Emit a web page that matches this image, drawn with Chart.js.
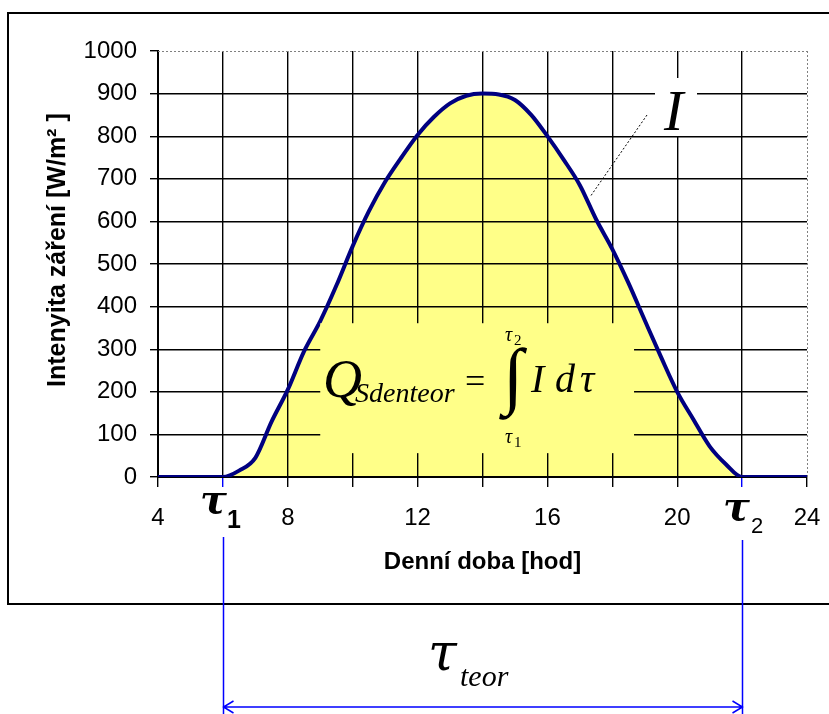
<!DOCTYPE html>
<html><head><meta charset="utf-8">
<script src="https://cdn.jsdelivr.net/npm/chart.js@4"></script>
<style>html,body{margin:0;padding:0;background:#fff;} canvas{display:block;}</style>
</head><body>
<canvas id="c" width="829" height="714"></canvas>
<script>
// ---- data ----
const hours = [4,5,6,6.5,7,7.5,8,8.5,9,9.5,10,10.5,11,11.5,12,12.5,13,13.5,14,14.5,15,15.5,16,16.5,17,17.5,18,18.5,19,19.5,20,20.5,21,21.5,22,23,24];
const intensity = [0,0,0,15,45,130,205,295,366,450,542,624,693,750,803,845,877,895,900,898,885,850,800,745,685,605,535,455,368,282,200,135,72,30,0,0,0];
const xTickLabels = [4,8,12,16,20,24];
const tau1 = 6, tau2 = 22;

const SANS = '"Liberation Sans", Arial, sans-serif';
const SERIF = '"Liberation Serif", "Times New Roman", serif';
const DSERIF = '"DejaVu Serif", serif';

const overlay = {
  id: 'overlay',
  afterDraw(chart) {
    const ctx = chart.ctx, xs = chart.scales.x, ys = chart.scales.y, a = chart.chartArea;
    const X = v => xs.getPixelForValue(v), Y = v => ys.getPixelForValue(v);
    ctx.save();
    // dotted top / right plot edges
    ctx.strokeStyle = '#808080'; ctx.lineWidth = 1; ctx.setLineDash([2, 2]);
    ctx.beginPath();
    ctx.moveTo(a.left, Math.round(a.top) + 0.5); ctx.lineTo(a.right, Math.round(a.top) + 0.5);
    ctx.moveTo(Math.round(a.right) + 0.5, a.top); ctx.lineTo(Math.round(a.right) + 0.5, a.bottom);
    ctx.stroke();
    ctx.setLineDash([]);
    // outer frame
    ctx.strokeStyle = '#000'; ctx.lineWidth = 2;
    ctx.strokeRect(8, 13, 840, 591);

    // "I" label with white box and leader line
    ctx.fillStyle = '#fff';
    ctx.fillRect(655, 78, 42, 58);
    ctx.fillStyle = '#000';
    ctx.font = 'italic 58px ' + SERIF;
    ctx.textBaseline = 'alphabetic'; ctx.textAlign = 'left';
    ctx.fillText('I', 664, 130);
    ctx.strokeStyle = '#000'; ctx.lineWidth = 1; ctx.setLineDash([2, 2]);
    ctx.beginPath(); ctx.moveTo(647, 115); ctx.lineTo(590, 197); ctx.stroke();
    ctx.setLineDash([]);

    // equation box
    ctx.fillStyle = '#FFFF88';
    ctx.fillRect(X(9), Y(361), X(18.67) - X(9), Y(56) - Y(361));
    ctx.fillStyle = '#000';
    ctx.font = 'italic 54px ' + SERIF;
    ctx.fillText('Q', 323, 397);
    ctx.font = 'italic 28px ' + SERIF;
    ctx.fillText('Sdenteor', 355, 402);
    ctx.font = '36px ' + SERIF;
    ctx.fillText('=', 465, 393);
    ctx.font = '74px ' + SERIF;
    ctx.textBaseline = 'middle';
    ctx.fillText('\u222B', 503, 381);
    ctx.textBaseline = 'alphabetic';
    ctx.font = 'italic 20px ' + SERIF;
    ctx.fillText('\u03C4', 505, 341);
    ctx.fillText('\u03C4', 505, 443);
    ctx.font = '15px ' + SERIF;
    ctx.fillText('2', 514, 345);
    ctx.fillText('1', 514, 447);
    ctx.font = 'italic 40px ' + SERIF;
    ctx.fillText('I', 531, 392);
    ctx.fillText('d', 555, 392);
    ctx.fillText('\u03C4', 580, 392);

    // tau labels on axis
    ctx.font = 'italic bold 40px ' + DSERIF;
    ctx.fillText('\u03C4', 200, 513);
    ctx.fillText('\u03C4', 723, 520);
    ctx.font = 'bold 25px ' + SANS;
    ctx.fillText('1', 227, 528);
    ctx.font = '22px ' + SANS;
    ctx.fillText('2', 751, 533);

    // blue dimension lines
    const x1 = Math.round(X(tau1)) + 0.5, x2 = Math.round(X(tau2)) + 0.5;
    ctx.strokeStyle = '#0000FF'; ctx.lineWidth = 1.5;
    ctx.beginPath();
    ctx.moveTo(x1, 537); ctx.lineTo(x1, 714);
    ctx.moveTo(x2, 540); ctx.lineTo(x2, 714);
    ctx.moveTo(x1, 707); ctx.lineTo(x2, 707);
    ctx.moveTo(x1 + 10, 701); ctx.lineTo(x1, 707); ctx.lineTo(x1 + 10, 713);
    ctx.moveTo(x2 - 10, 701); ctx.lineTo(x2, 707); ctx.lineTo(x2 - 10, 713);
    ctx.stroke();

    // tau teor
    ctx.fillStyle = '#000';
    ctx.font = 'italic 52px ' + DSERIF;
    ctx.fillText('\u03C4', 428, 670);
    ctx.font = 'italic 30px ' + SERIF;
    ctx.fillText('teor', 460, 686);
    ctx.restore();
  }
};

const ctx = document.getElementById('c').getContext('2d');
new Chart(ctx, {
  type: 'line',
  data: {
    datasets: [{
      data: hours.map((h, i) => ({x: h, y: intensity[i]})),
      borderColor: '#000080',
      borderWidth: 4,
      backgroundColor: '#FFFF88',
      fill: 'origin',
      pointRadius: 0,
      cubicInterpolationMode: 'monotone'
    }]
  },
  options: {
    responsive: false,
    animation: false,
    devicePixelRatio: 1,
    layout: {padding: {left: 42, top: 51, right: 22, bottom: 137.6}},
    plugins: {
      legend: {display: false},
      tooltip: {enabled: false},
      filler: {drawTime: 'beforeDraw'}
    },
    scales: {
      x: {
        type: 'linear', min: 4, max: 24,
        ticks: {
          stepSize: 2, autoSkip: false, maxRotation: 0, padding: 17, color: '#000',
          font: {family: SANS, size: 24},
          callback: v => xTickLabels.includes(v) ? String(v) : ''
        },
        grid: {
          color: c => (c.tick && c.tick.value === 24) ? 'rgba(0,0,0,0)' : '#000',
          lineWidth: 1.4, tickLength: 10, tickWidth: 1.4,
          tickColor: c => (c.tick && (c.tick.value === tau1 || c.tick.value === tau2)) ? '#0000FF' : '#000'
        },
        border: {color: '#000', width: 2},
        title: {display: true, text: 'Denní doba [hod]', color: '#000',
          font: {family: SANS, size: 24, weight: 'bold'}, padding: {top: 0, bottom: 0}},
        afterFit: s => { s.height = 99.4; s.paddingLeft = 0; s.paddingRight = 0; }
      },
      y: {
        min: 0, max: 1000,
        ticks: {stepSize: 100, padding: 13, color: '#000', font: {family: SANS, size: 24},
          callback: v => String(v)},
        grid: {
          color: c => (c.tick && c.tick.value === 1000) ? 'rgba(0,0,0,0)' : '#000',
          lineWidth: 1.4, tickLength: 8, tickWidth: 1.4, tickColor: '#000'
        },
        border: {color: '#000', width: 2},
        title: {display: true, text: '\u00A0\u00A0\u00A0\u00A0Intenyita záření [W/m² ]', color: '#000',
          font: {family: SANS, size: 25, weight: 'bold'}, padding: {top: 1, bottom: 0}},
        afterFit: s => { s.width = 116; }
      }
    }
  },
  plugins: [overlay]
});
</script>
</body></html>
